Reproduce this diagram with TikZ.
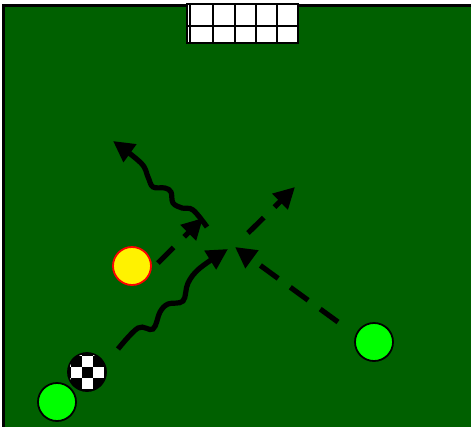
\documentclass[tikz,border=0pt]{standalone}
\usetikzlibrary{arrows.meta}
\definecolor{field}{RGB}{0,96,0}
\definecolor{lime}{RGB}{0,255,0}
\begin{document}
\begin{tikzpicture}[x=1pt,y=-1pt,
  player/.style={circle,draw=black,line width=1.8pt,minimum size=38pt,inner sep=0pt},
  run/.style={line width=5.2pt,dash pattern=on 22pt off 15pt,-{Triangle[length=21pt,width=21pt]}},
  dribble/.style={line width=5.2pt,-{Triangle[length=21pt,width=21pt]}},
  net/.style={line width=2pt,draw=black}]
\useasboundingbox (0,0) rectangle (471,426);
\clip (0,0) rectangle (471,426);
% field
\draw[fill=field,line width=3pt] (3,5) rectangle (490,450);
% goal
\draw[net,fill=white] (187,4) rectangle (298,43);
\foreach \gx in {190,213,235,256,277} \draw[net] (\gx,4) -- (\gx,43);
\draw[net] (187,26) -- (298,26);
% players
\node[player,fill=yellow,draw=red] (yel) at (132,266) {};
\node[player,fill=lime] (gr1) at (374,342) {};
\node[player,fill=lime] (gr2) at (57,402) {};
% ball
\begin{scope}
  \clip (87,372) circle (19pt);
  \fill[white] (66,351) rectangle (108,393);
  \foreach \i in {-2,...,2}{
    \foreach \j in {-2,...,2}{
      \pgfmathparse{int(mod(\i+\j+10,2))}
      \ifnum\pgfmathresult=0
        \fill[black] ({87+11*\i-5.5},{372+11*\j-5.5}) rectangle ++(11,11);
      \fi
    }
  }
\end{scope}
\node[circle,draw=black,line width=1.8pt,minimum size=38pt,inner sep=0pt] (ball) at (87,372) {};
% coordinates
\coordinate (a3s) at (158,263);
\coordinate (a3e) at (203,218);
\coordinate (a4s) at (248,233);
\coordinate (a4e) at (295,187);
\coordinate (a5s) at (338,322);
\coordinate (a5e) at (235,247);
% runs
\draw[run] (a3s) -- (a3e);
\draw[run] (a4s) -- (a4e);
\draw[run] (a5s) -- (a5e);
% dribbles
\draw[dribble] plot[smooth,tension=0.6] coordinates {(118,349) (138,328) (153,329) (160,312) (168,304) (183,301) (188,283) (200,268) (228,249)};
\draw[dribble] plot[smooth,tension=0.6] coordinates {(207,227) (193,210) (182,208) (173,203) (171,192) (165,188) (153,187) (148,177) (141,163) (113,141)};
\end{tikzpicture}
\end{document}
